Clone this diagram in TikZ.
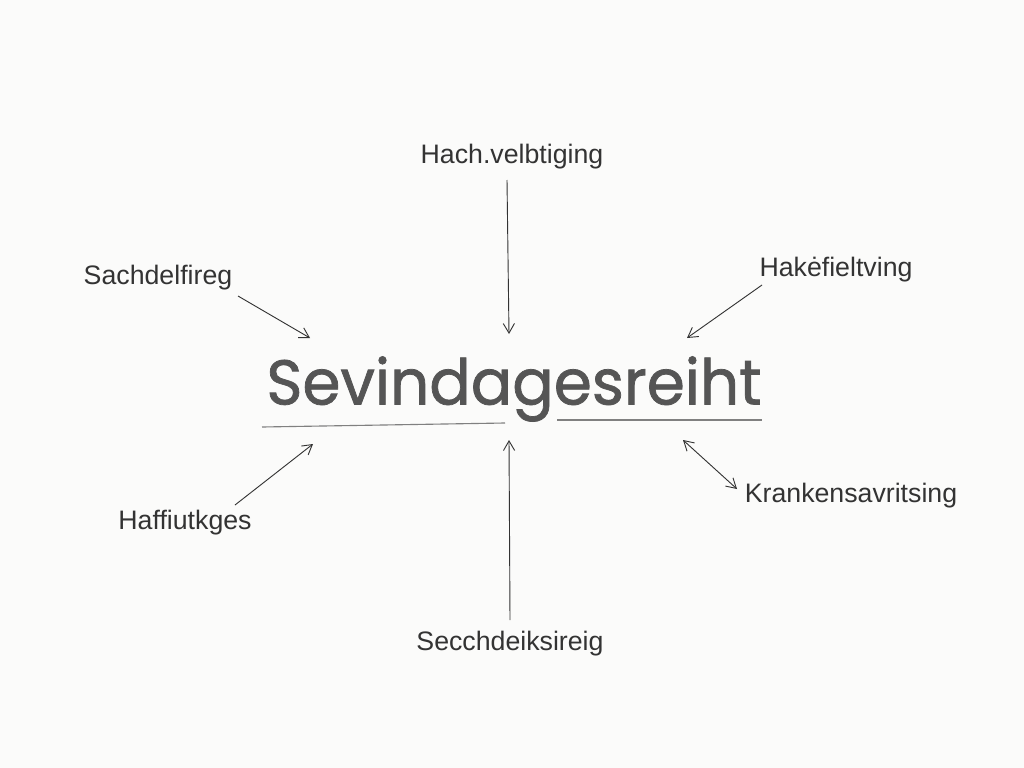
\documentclass[tikz,border=0pt]{standalone}
\usepackage{fontspec}
\setmainfont{Liberation Sans}
\newfontfamily\mainword[FakeBold=1.2]{Poppins}
\usetikzlibrary{arrows.meta}
\definecolor{ink}{HTML}{333333}
\definecolor{wordgray}{HTML}{555555}
\definecolor{paper}{HTML}{FBFBFA}
\tikzset{
  lbl/.style={inner sep=0pt, text=ink, font=\fontsize{19}{22}\selectfont},
  conn/.style={draw=ink, line width=0.65pt, -{Straight Barb[length=2.4mm,width=2.8mm]}},
  dconn/.style={draw=ink, line width=0.65pt, {Straight Barb[length=2.4mm,width=2.8mm]}-{Straight Barb[length=2.4mm,width=2.8mm]}},
  uline/.style={draw=wordgray!75, line width=0.8pt}
}
\begin{document}
\begin{tikzpicture}[x=0.025cm,y=-0.025cm]
\fill[paper] (0,0) rectangle (1024,768);
\useasboundingbox (0,0) rectangle (1024,768);
\node[inner sep=0pt, text=wordgray, font=\mainword\fontsize{45}{52}\selectfont] (main) at (514,389) {\scalebox{0.97}[1]{Sevindagesreiht}};
\draw[uline] (262,427) -- (505,423);
\draw[uline] (557,420) -- (762,420);

\node[lbl] (top) at (512,157) {Hach.velbtiging};
\node[lbl] (tl) at (158,278) {Sachdelfireg};
\node[lbl] (tr) at (836,270) {Hakėfieltving};
\node[lbl] (bl) at (185,523) {Haffiutkges};
\node[lbl] (br) at (851,496) {Krankensavritsing};
\node[lbl] (bot) at (510,644) {Secchdeiksireig};

\coordinate (pT) at (509,334);
\coordinate (pTL) at (310,338);
\coordinate (pTR) at (687,338);
\coordinate (pBL) at (313,444);
\coordinate (pBR) at (683,440);
\coordinate (pB) at (509,440);
\coordinate (sT) at (507,180);
\coordinate (sTL) at (238,296);
\coordinate (sTR) at (762,285);
\coordinate (sBL) at (235,505);
\coordinate (sBR) at (737,489);
\coordinate (sB) at (510,620);

\draw[conn] (sT) -- (pT);
\draw[conn] (sTL) -- (pTL);
\draw[conn] (sTR) -- (pTR);
\draw[conn] (sBL) -- (pBL);
\draw[dconn] (sBR) -- (pBR);
\draw[conn] (sB) -- (pB);
\end{tikzpicture}
\end{document}
